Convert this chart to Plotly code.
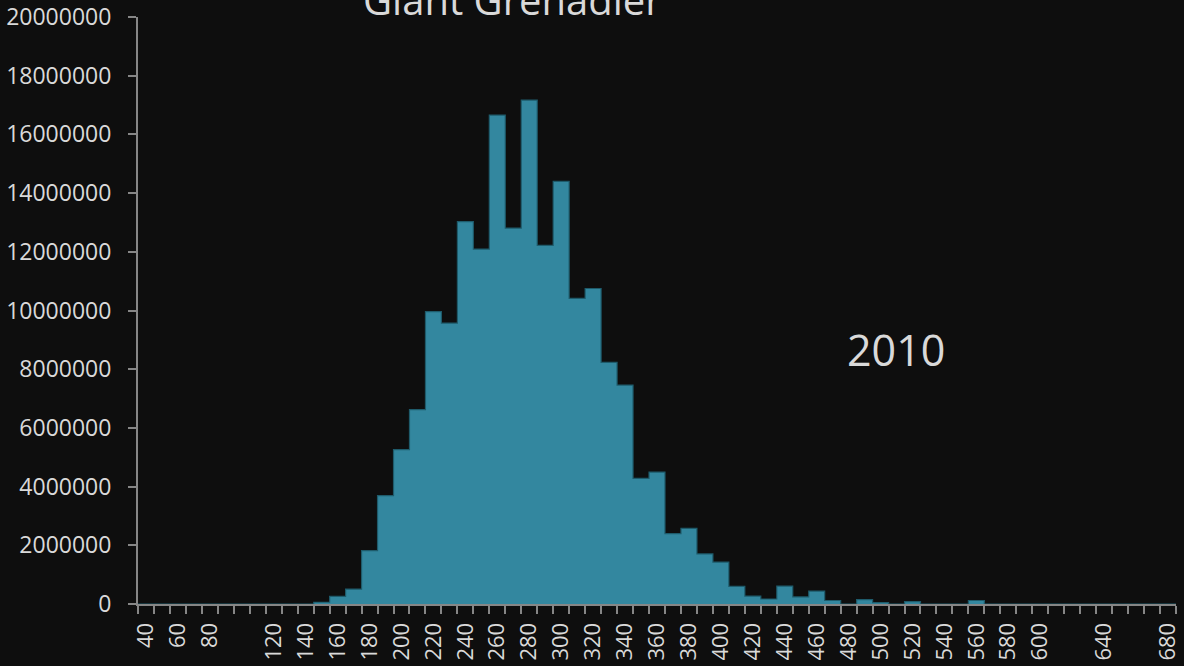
import plotly.graph_objects as go

# Length bins (10-unit classes) and estimated numbers at length, Giant Grenadier 2010
length_bins = list(range(40, 690, 10))
numbers = (
    [0] * 11
    + [60000, 260000, 510000, 1820000, 3690000, 5260000, 6620000, 9960000,
       9570000, 13030000, 12090000, 16660000, 12810000, 17170000, 12220000,
       14400000, 10410000, 10750000, 8230000, 7460000, 4280000, 4490000,
       2400000, 2580000, 1710000, 1430000, 600000, 270000, 170000, 610000,
       240000, 440000, 120000, 0, 150000, 50000, 0, 80000, 0, 0, 0, 120000]
    + [0] * 12
)

# Labelled lengths on the x axis
x_label_vals = [40, 60, 80, 120, 140, 160, 180, 200, 220, 240, 260, 280, 300,
                320, 340, 360, 380, 400, 420, 440, 460, 480, 500, 520, 540,
                560, 580, 600, 640, 680]
x_label_text = [str(v) for v in x_label_vals]

y_tick_vals = list(range(0, 20000001, 2000000))
y_tick_text = [str(v) for v in y_tick_vals]

title_text = "Giant Grenadier"
year_text = "2010"

BG = "#0e0e0e"
BAR = "#33879f"
EDGE = "#1e5b6b"
TEXT = "#d9d9d9"
AXIS = "#868686"
FONT = "Open Sans"

half = 5  # half bin width
step_x = [b - half for b in length_bins] + [length_bins[-1] + half]
step_y = numbers + [numbers[-1]]

fig = go.Figure()
fig.add_trace(go.Bar(
    x=length_bins, y=numbers, width=10,
    marker=dict(color=BAR, line=dict(width=0)),
    hoverinfo="x+y", showlegend=False,
))
fig.add_trace(go.Scatter(
    x=step_x, y=step_y, mode="lines",
    line=dict(color=EDGE, width=1.2, shape="hv"),
    hoverinfo="skip", showlegend=False,
))

fig.update_layout(
    width=1184, height=666,
    paper_bgcolor=BG, plot_bgcolor=BG,
    margin=dict(l=138, r=8, t=17, b=62),
    bargap=0,
    font=dict(family=FONT, color=TEXT, size=23),
    showlegend=False,
)

fig.update_xaxes(
    type="linear", range=[35, 685], automargin=False,
    tickvals=x_label_vals, ticktext=x_label_text, tickangle=-90,
    ticks="", showgrid=False, zeroline=False,
    showline=True, linecolor=AXIS, linewidth=2, layer="above traces",
    tickfont=dict(family=FONT, size=22, color=TEXT),
    ticklabelstandoff=8,
    minor=dict(ticks="outside", tick0=35, dtick=10, ticklen=8,
               tickwidth=2, tickcolor=AXIS, showgrid=False),
)
fig.update_yaxes(
    range=[0, 20000000], automargin=False,
    tickvals=y_tick_vals, ticktext=y_tick_text,
    ticks="outside", ticklen=8, tickwidth=2, tickcolor=AXIS,
    showgrid=False, zeroline=False,
    showline=True, linecolor=AXIS, linewidth=2,
    tickfont=dict(family=FONT, size=23, color=TEXT),
    ticklabelstandoff=12,
)

fig.add_annotation(
    text=title_text, xref="paper", yref="paper",
    x=(512 - 138) / (1184 - 138 - 8), y=0.979,
    xanchor="center", yanchor="bottom", showarrow=False,
    font=dict(family=FONT, size=40, color=TEXT),
)
fig.add_annotation(
    text=year_text, xref="paper", yref="paper",
    x=(896 - 138) / (1184 - 138 - 8), y=(604 - 349) / (604 - 17),
    xanchor="center", yanchor="middle", showarrow=False,
    font=dict(family=FONT, size=43, color=TEXT),
)

fig.write_html("out.html")
